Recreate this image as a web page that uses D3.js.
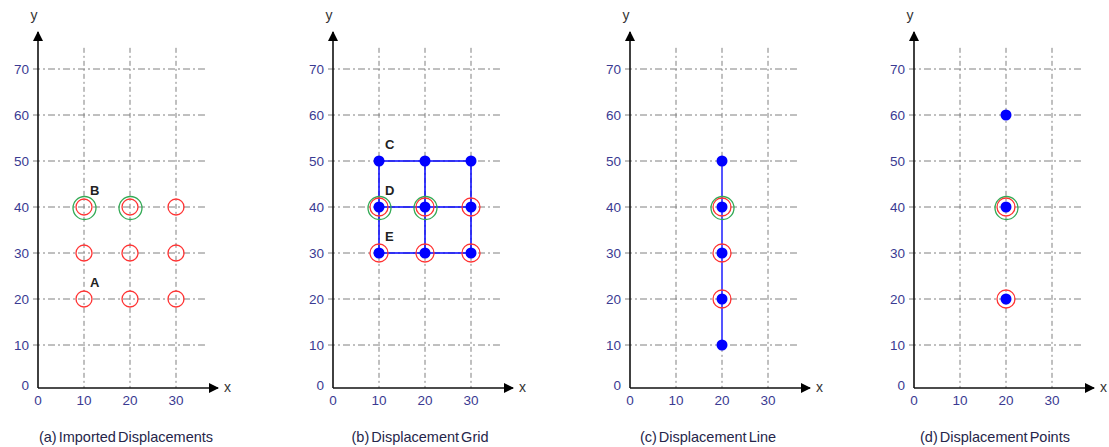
<!DOCTYPE html>
<html>
<head>
<meta charset="utf-8">
<script src="https://cdn.jsdelivr.net/npm/d3@7/dist/d3.min.js"></script>
<style>
  body { margin: 0; background: #ffffff; }
  svg { display: block; }
</style>
</head>
<body>
<script>
// -----------------------------
// Data
// -----------------------------

const X_TICKS = [0, 10, 20, 30];
const Y_TICKS = [0, 10, 20, 30, 40, 50, 60, 70];

const CAPTIONS = [
  "(a) Imported Displacements",
  "(b) Displacement Grid",
  "(c) Displacement Line",
  "(d) Displacement Points"
];

// red rings = imported displacement locations
const RED_A = [[10, 20], [20, 20], [30, 20], [10, 30], [20, 30], [30, 30], [10, 40], [20, 40], [30, 40]];
const RED_B = [[10, 30], [20, 30], [30, 30], [10, 40], [20, 40], [30, 40]];
const RED_C = [[20, 20], [20, 30], [20, 40]];
const RED_D = [[20, 20], [20, 40]];

// green rings = selected points
const GREEN_A = [[10, 40], [20, 40]];
const GREEN_B = [[10, 40], [20, 40]];
const GREEN_C = [[20, 40]];
const GREEN_D = [[20, 40]];

// blue dots = displacement result points
const BLUE_B = [[10, 30], [20, 30], [30, 30], [10, 40], [20, 40], [30, 40], [10, 50], [20, 50], [30, 50]];
const BLUE_C = [[20, 10], [20, 20], [20, 30], [20, 40], [20, 50]];
const BLUE_D = [[20, 20], [20, 40], [20, 60]];

// grid (b) and line (c) connections
const GRID_B_XS = [10, 20, 30];
const GRID_B_YS = [30, 40, 50];
const LINE_C = [[20, 10], [20, 50]];

// point labels
const LABELS_A = [{ name: "A", p: [10, 20] }, { name: "B", p: [10, 40] }];
const LABELS_B = [{ name: "C", p: [10, 50] }, { name: "D", p: [10, 40] }, { name: "E", p: [10, 30] }];

// -----------------------------
// SVG Setup
// -----------------------------

const WIDTH = 1109;
const HEIGHT = 447;

const svg = d3.select("body")
  .append("svg")
  .attr("width", WIDTH)
  .attr("height", HEIGHT)
  .attr("viewBox", `0 0 ${WIDTH} ${HEIGHT}`);

const defs = svg.append("defs");
defs.append("marker")
  .attr("id", "arrow")
  .attr("viewBox", "0 0 10 10")
  .attr("refX", 9)
  .attr("refY", 5)
  .attr("markerUnits", "userSpaceOnUse")
  .attr("markerWidth", 12)
  .attr("markerHeight", 10)
  .attr("orient", "auto")
  .append("path")
  .attr("d", "M0,0 L10,5 L0,10 Z")
  .attr("fill", "#000");

const FONT = "'Liberation Sans', Arial, sans-serif";
const TICK_COLOR = "#3a3a92";
const GRID_COLOR = "#808080";

// shared scales (each panel is shifted by its own origin)
const x = d3.scaleLinear().domain([0, 30]).range([0, 138]);
const y = d3.scaleLinear().domain([0, 70]).range([391, 69]);
const AXIS_Y = 388;

const PANEL_X = [38, 333, 630, 914];

// -----------------------------
// Panel drawing
// -----------------------------

function drawPanel(i, opts) {
  const g = svg.append("g")
    .attr("transform", `translate(${PANEL_X[i]},0)`);

  // horizontal dash-dot grid lines
  g.append("g").selectAll("line")
    .data(Y_TICKS.filter(d => d > 0))
    .join("line")
    .attr("x1", -5)
    .attr("x2", x(36.3))
    .attr("y1", d => y(d))
    .attr("y2", d => y(d))
    .attr("stroke", GRID_COLOR)
    .attr("stroke-width", 1)
    .attr("stroke-dasharray", "7,3,2,3");

  // vertical grid lines
  g.append("g").selectAll("line")
    .data(X_TICKS.filter(d => d > 0))
    .join("line")
    .attr("x1", d => x(d))
    .attr("x2", d => x(d))
    .attr("y1", y(74.6))
    .attr("y2", AXIS_Y)
    .attr("stroke", GRID_COLOR)
    .attr("stroke-width", 1)
    .attr("stroke-dasharray", "5,3,2,3");

  // axes with arrow heads
  g.append("line")
    .attr("x1", 0).attr("y1", AXIS_Y)
    .attr("x2", 0).attr("y2", 32)
    .attr("stroke", "#111").attr("stroke-width", 1.6)
    .attr("marker-end", "url(#arrow)");
  g.append("line")
    .attr("x1", 0).attr("y1", AXIS_Y)
    .attr("x2", 180).attr("y2", AXIS_Y)
    .attr("stroke", "#111").attr("stroke-width", 1.6)
    .attr("marker-end", "url(#arrow)");

  g.append("text")
    .attr("x", 186).attr("y", AXIS_Y + 4)
    .attr("font-family", FONT).attr("font-size", 14)
    .attr("fill", "#333").text("x");
  g.append("text")
    .attr("x", -4).attr("y", 20)
    .attr("text-anchor", "middle")
    .attr("font-family", FONT).attr("font-size", 14)
    .attr("fill", "#333").text("y");

  // tick labels
  g.append("g").selectAll("text")
    .data(Y_TICKS)
    .join("text")
    .attr("x", -9)
    .attr("y", d => d === 0 ? AXIS_Y - 3 : y(d))
    .attr("dy", "0.35em")
    .attr("text-anchor", "end")
    .attr("font-family", FONT).attr("font-size", 13.5)
    .attr("fill", TICK_COLOR)
    .text(d => d);

  g.append("g").selectAll("text")
    .data(X_TICKS)
    .join("text")
    .attr("x", d => x(d))
    .attr("y", 405)
    .attr("text-anchor", "middle")
    .attr("font-family", FONT).attr("font-size", 13.5)
    .attr("fill", TICK_COLOR)
    .text(d => d);

  // caption
  g.append("text")
    .attr("x", opts.captionX)
    .attr("y", 442)
    .attr("text-anchor", "middle")
    .attr("font-family", FONT).attr("font-size", 14.5)
    .attr("word-spacing", -2)
    .attr("fill", "#26264a")
    .text(CAPTIONS[i]);

  // connecting blue lines
  if (opts.segments) {
    g.append("g").selectAll("line")
      .data(opts.segments)
      .join("line")
      .attr("x1", d => x(d[0][0])).attr("y1", d => y(d[0][1]))
      .attr("x2", d => x(d[1][0])).attr("y2", d => y(d[1][1]))
      .attr("stroke", opts.segColor)
      .attr("stroke-width", opts.segWidth);
  }

  // green rings
  g.append("g").selectAll("circle")
    .data(opts.green)
    .join("circle")
    .attr("cx", d => x(d[0]) + 0.5)
    .attr("cy", d => y(d[1]) + 1)
    .attr("r", 11.5)
    .attr("fill", "none")
    .attr("stroke", "#33aa55")
    .attr("stroke-width", 1.3);

  // red rings
  g.append("g").selectAll("circle")
    .data(opts.red)
    .join("circle")
    .attr("cx", d => x(d[0]))
    .attr("cy", d => y(d[1]))
    .attr("r", opts.redR)
    .attr("fill", "none")
    .attr("stroke", "#ff3333")
    .attr("stroke-width", 1.3);

  // blue dots
  g.append("g").selectAll("circle")
    .data(opts.blue || [])
    .join("circle")
    .attr("cx", d => x(d[0]))
    .attr("cy", d => y(d[1]))
    .attr("r", 5.5)
    .attr("fill", "#0000ff");

  // letter labels
  g.append("g").selectAll("text")
    .data(opts.labels || [])
    .join("text")
    .attr("x", d => x(d.p[0]) + 6)
    .attr("y", d => y(d.p[1]) - 12)
    .attr("font-family", FONT).attr("font-size", 13)
    .attr("font-weight", "bold")
    .attr("fill", "#222")
    .text(d => d.name);
}

// build the mesh segments of the displacement grid
const GRID_SEGMENTS = [];
GRID_B_YS.forEach(yy => GRID_SEGMENTS.push([[GRID_B_XS[0], yy], [GRID_B_XS[GRID_B_XS.length - 1], yy]]));
GRID_B_XS.forEach(xx => GRID_SEGMENTS.push([[xx, GRID_B_YS[0]], [xx, GRID_B_YS[GRID_B_YS.length - 1]]]));

drawPanel(0, { red: RED_A, green: GREEN_A, redR: 8, labels: LABELS_A, captionX: 88 });
drawPanel(1, { red: RED_B, green: GREEN_B, blue: BLUE_B, redR: 9, labels: LABELS_B,
  segments: GRID_SEGMENTS, segColor: "#0000ff", segWidth: 1.5, captionX: 87 });
drawPanel(2, { red: RED_C, green: GREEN_C, blue: BLUE_C, redR: 9,
  segments: [LINE_C], segColor: "#5555ff", segWidth: 2, captionX: 78 });
drawPanel(3, { red: RED_D, green: GREEN_D, blue: BLUE_D, redR: 9, captionX: 81 });
</script>
</body>
</html>
